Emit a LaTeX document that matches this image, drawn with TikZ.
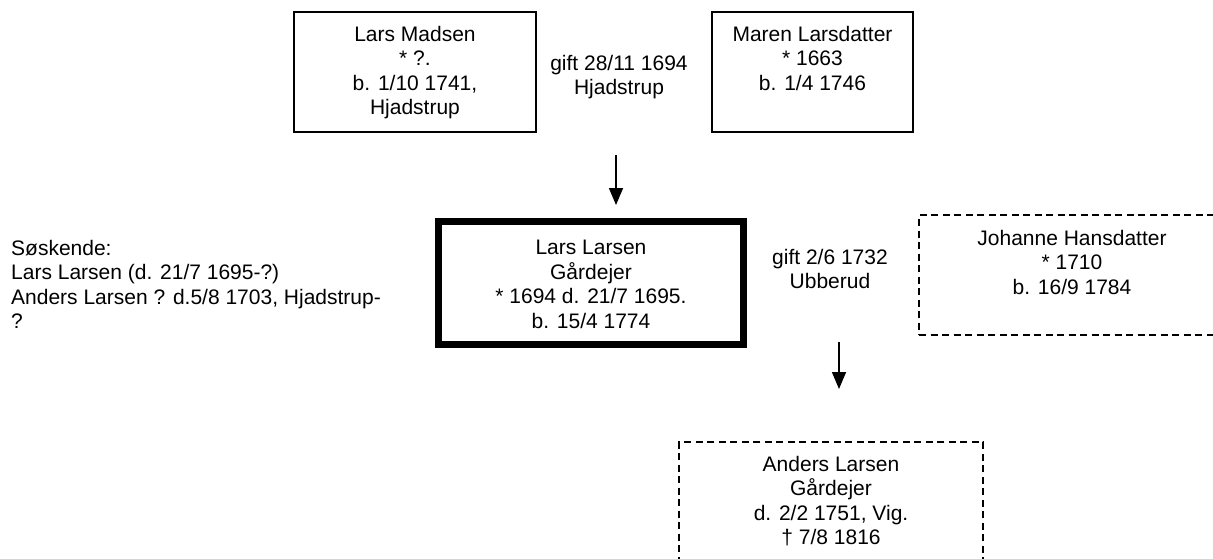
\documentclass[tikz,border=0pt]{standalone}
\usepackage{fontspec}
\setmainfont{Liberation Sans}
\usetikzlibrary{arrows.meta}
\tikzset{
  x=1pt, y=-1pt,
  txt/.style={inner sep=0pt, align=center, anchor=north, font=\fontsize{21}{24.5}\selectfont},
  box/.style={draw, line width=1.3pt, inner sep=0pt},
  thickbox/.style={draw, line width=7pt, inner sep=0pt},
  dbox/.style={draw, line width=1.3pt, inner sep=0pt, dash pattern=on 7pt off 4.5pt},
  arr/.style={line width=1.5pt, -{Triangle[length=17pt,width=14pt]}}
}
\begin{document}
\begin{tikzpicture}
\useasboundingbox (0,0) rectangle (1213,558);
\clip (0,0) rectangle (1213,558);
% boxes
\node[box, minimum width=242pt, minimum height=120pt] (lm) at (415,72) {};
\node[box, minimum width=201pt, minimum height=120pt] (ml) at (812.5,72) {};
\node[thickbox, minimum width=305pt, minimum height=123pt] (ll) at (591,283) {};
\node[dbox, minimum width=306pt, minimum height=120pt] (jh) at (1072,275) {};
\node[dbox, minimum width=304pt, minimum height=140pt] (al) at (831,512) {};
% texts
\node[txt] (lmt) at (415,26) {Lars Madsen\\* ?.\\b. 1/10 1741,\\Hjadstrup};
\node[txt] (g1) at (619,55) {gift 28/11 1694\\Hjadstrup};
\node[txt] (mlt) at (812.5,26) {Maren Larsdatter\\* 1663\\b. 1/4 1746};
\node[txt] (llt) at (591,240) {Lars Larsen\\Gårdejer\\* 1694 d. 21/7 1695.\\b. 15/4 1774};
\node[txt, align=left, anchor=north west] (sos) at (11,240) {Søskende:\\Lars Larsen (d. 21/7 1695-?)\\Anders Larsen ? d.5/8 1703, Hjadstrup-\\?};
\node[txt] (g2) at (830,249) {gift 2/6 1732\\Ubberud};
\node[txt] (jht) at (1072,230) {Johanne Hansdatter\\* 1710\\b. 16/9 1784};
\node[txt] (alt) at (831,456) {Anders Larsen\\Gårdejer\\d. 2/2 1751, Vig.\\† 7/8 1816};
% arrows
\coordinate (a1s) at (616,155);
\coordinate (a1e) at (616,205);
\coordinate (a2s) at (839,342);
\coordinate (a2e) at (839,389);
\draw[arr] (a1s) -- (a1e);
\draw[arr] (a2s) -- (a2e);
\end{tikzpicture}
\end{document}
